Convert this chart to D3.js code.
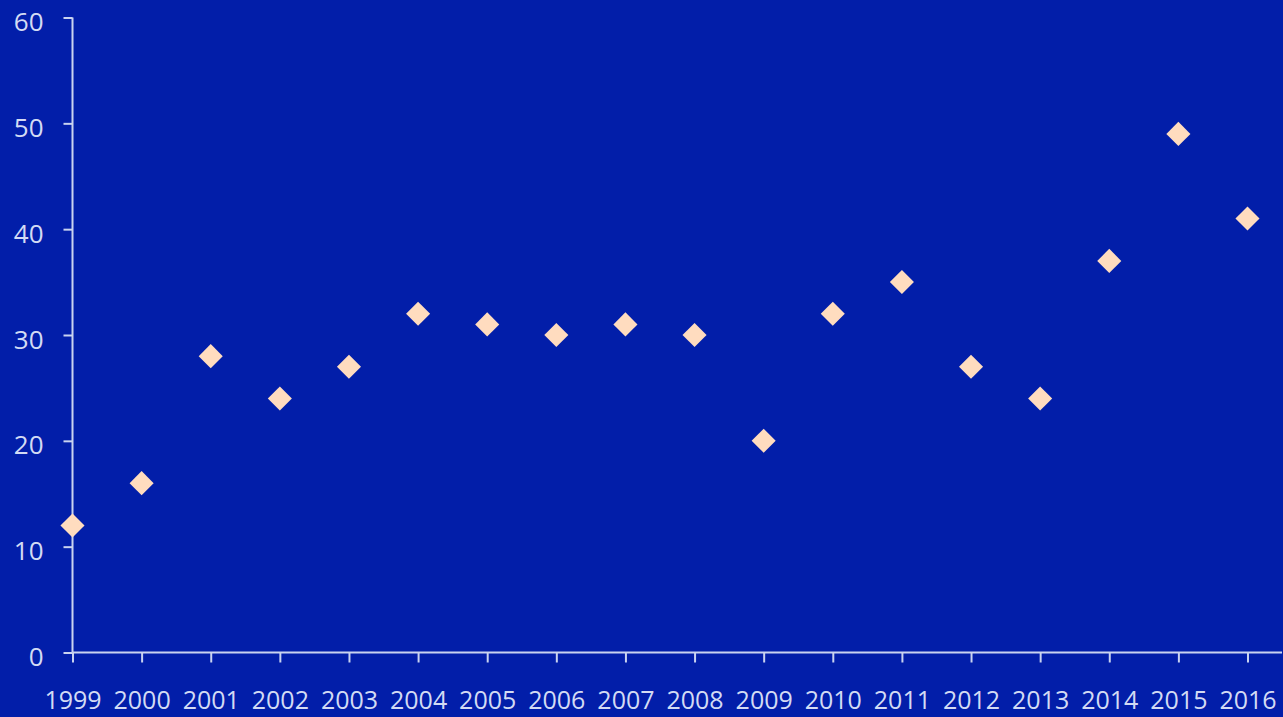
<!DOCTYPE html>
<html>
<head>
<meta charset="utf-8">
<script src="https://cdn.jsdelivr.net/npm/d3@7"></script>
<style>
html,body{margin:0;padding:0;background:#021ea9;overflow:hidden;}
svg{display:block;}
</style>
</head>
<body>
<svg id="chart" width="1283" height="717"></svg>
<script>
const years = ["1999","2000","2001","2002","2003","2004","2005","2006","2007","2008","2009","2010","2011","2012","2013","2014","2015","2016"];
const values = [12,16,28,24,27,32,31,30,31,30,20,32,35,27,24,37,49,41];
const yTicks = [0,10,20,30,40,50,60];

const svg = d3.select("#chart");
svg.append("rect").attr("width",1283).attr("height",717).attr("fill","#021ea9");

const x = d3.scalePoint().domain(years).range([72.5, 1247.5]);
const y = d3.scaleLinear().domain([0,60]).range([652.5, 17.5]);

const axisColor = "#c9d3f0";
const textColor = "#d3dbf4";
const font = "'Open Sans', sans-serif";

const gx = svg.append("g").attr("transform","translate(0,652.5)")
  .call(d3.axisBottom(x).tickSize(10).tickPadding(29));
gx.select(".domain").attr("d","M72.5,0H1282");
const gy = svg.append("g").attr("transform","translate(72.5,0)")
  .call(d3.axisLeft(y).tickValues(yTicks).tickSize(9).tickPadding(20).tickFormat(d3.format("d")));
gy.select(".domain").attr("d","M0,17.5V652.5");

[gx,gy].forEach(g=>{
  g.selectAll("path,line").attr("stroke",axisColor).attr("stroke-width",2);
  g.selectAll("text").attr("fill",textColor).style("font-family",font);
});
gx.selectAll("text").style("font-size","25px");
gy.selectAll("text").style("font-size","26px").attr("dy","0.5em");

const sym = d3.symbol().type(d3.symbolSquare).size(290);
svg.append("g").selectAll("path").data(years).join("path")
  .attr("d", sym)
  .attr("transform",(d,i)=>`translate(${x(d)},${y(values[i])}) rotate(45)`)
  .attr("fill","#ffdcbf");
</script>
</body>
</html>
